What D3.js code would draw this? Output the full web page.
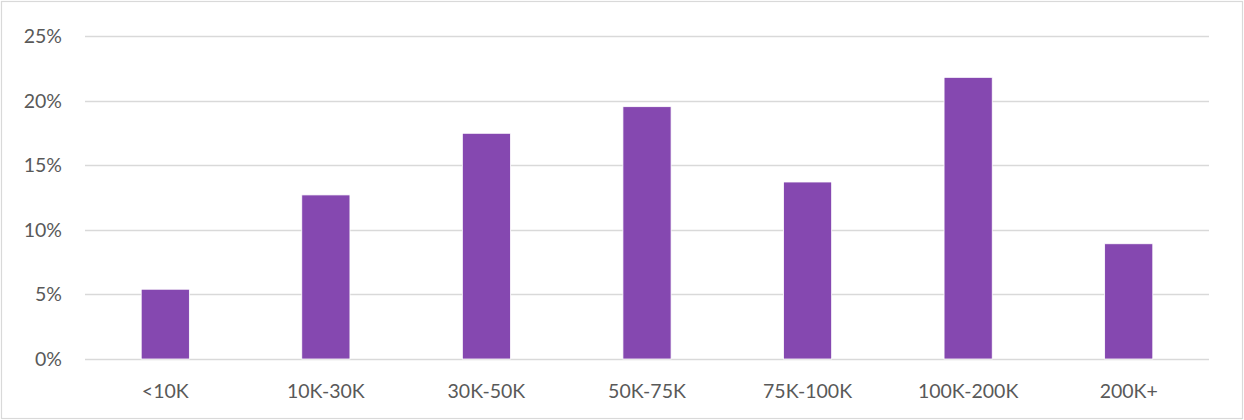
<!DOCTYPE html>
<html>
<head>
<meta charset="utf-8">
<script src="https://cdn.jsdelivr.net/npm/d3@7"></script>
<style>
	body { margin: 0; background: #fff; }
	svg { display: block; }
</style>
</head>
<body>
<svg id="chart" width="1244" height="420"></svg>
<script>

var categories = ["<10K", "10K-30K", "30K-50K", "50K-75K", "75K-100K", "100K-200K", "200K+"];
var shares = [5.4, 12.7, 17.47, 19.53, 13.7, 21.8, 8.92];
var yTicks = [0, 5, 10, 15, 20, 25];

var svg = d3.select("#chart");

var plotLeft = 85, plotRight = 1209, plotTop = 36, plotBottom = 359;

var x = d3.scaleBand()
	.domain(categories)
	.range([plotLeft, plotRight])
	.paddingInner(0.7)
	.paddingOuter(0.35);

var y = d3.scaleLinear()
	.domain([0, 25])
	.range([plotBottom, plotTop]);

// chart border
svg.append("rect")
	.attr("x", 1.5)
	.attr("y", 1.5)
	.attr("width", 1241)
	.attr("height", 417)
	.attr("fill", "none")
	.attr("stroke", "#d9d9d9")
	.attr("stroke-width", 1.2);

// gridlines
svg.append("g")
	.selectAll("line")
	.data(yTicks)
	.enter().append("line")
	.attr("x1", plotLeft)
	.attr("x2", plotRight)
	.attr("y1", function (d) { return Math.round(y(d)) + 0.5; })
	.attr("y2", function (d) { return Math.round(y(d)) + 0.5; })
	.attr("stroke", "#d9d9d9")
	.attr("stroke-width", 1.5);

// y labels
svg.append("g")
	.selectAll("text")
	.data(yTicks)
	.enter().append("text")
	.attr("x", 62)
	.attr("y", function (d) { return y(d) + 7; })
	.attr("text-anchor", "end")
	.attr("fill", "#595959")
	.style("font-family", "Lato")
	.style("font-size", "19.5px")
	.text(function (d) { return d + "%"; });

// bars
svg.append("g")
	.selectAll("rect")
	.data(shares)
	.enter().append("rect")
	.attr("x", function (d, i) { return x(categories[i]); })
	.attr("y", function (d) { return y(d); })
	.attr("width", x.bandwidth())
	.attr("height", function (d) { return y(0) - y(d); })
	.attr("fill", "#8548b0")
	.attr("stroke", "#fff")
	.attr("stroke-width", 0.8);

// x labels
svg.append("g")
	.selectAll("text")
	.data(categories)
	.enter().append("text")
	.attr("x", function (d) { return x(d) + x.bandwidth() / 2; })
	.attr("y", 398)
	.attr("text-anchor", "middle")
	.attr("fill", "#595959")
	.style("font-family", "Lato")
	.style("font-size", "19.5px")
	.text(function (d) { return d; });

</script>
</body>
</html>
